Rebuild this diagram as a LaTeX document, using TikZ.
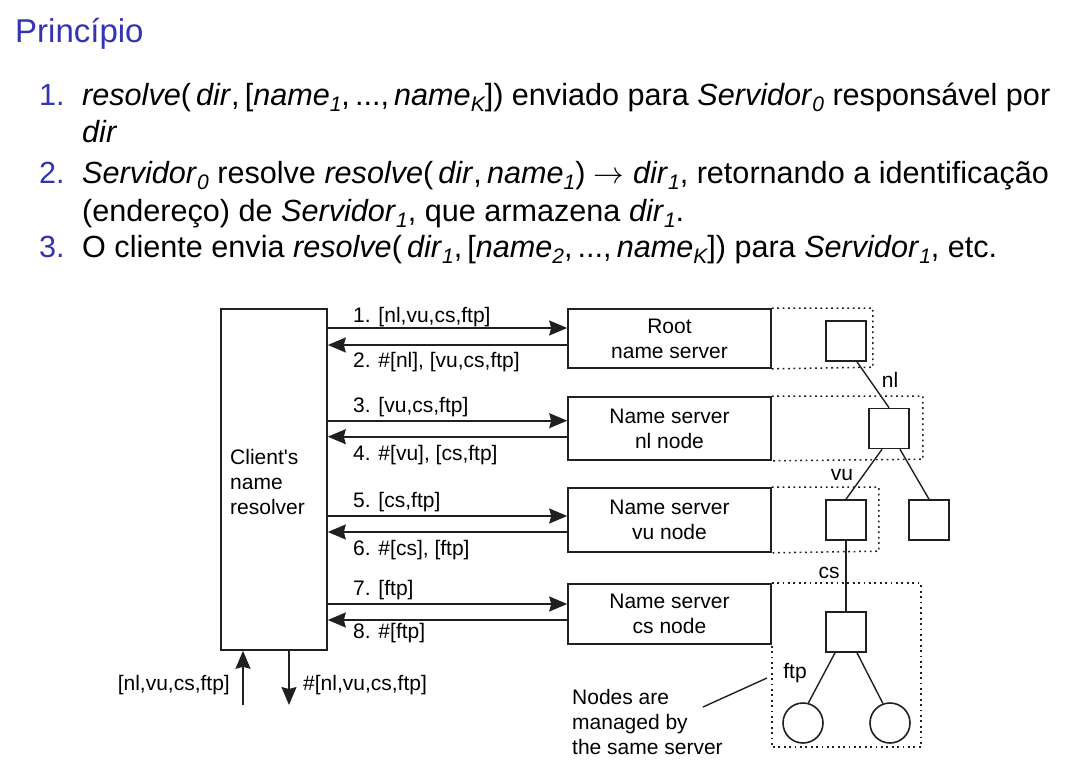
\RequirePackage{fix-cm}
\documentclass[tikz,border=0pt]{standalone}
\usepackage{fontspec}
\setmainfont{Liberation Sans}
\usetikzlibrary{arrows.meta}
\definecolor{struct}{RGB}{51,51,179}
\definecolor{ink}{RGB}{35,31,32}
% italic subscript used in the item text
\newcommand\subix[1]{\raisebox{-0.22em}{\fontsize{21}{21}\selectfont\itshape #1}}
\newcommand\bodysize{\fontsize{30.6}{36}\selectfont}
\newcommand\figsize{\fontsize{21}{25}\selectfont}
\newcommand\iv[1]{\textit{#1\/}}
\begin{document}
\begin{tikzpicture}[x=1pt,y=-1pt,
  body/.style={anchor=base west,inner sep=0pt,font=\bodysize},
  num/.style={anchor=base west,inner sep=0pt,font=\bodysize,text=struct},
  box/.style={draw=ink,line width=1.6pt,inner sep=0pt},
  srv/.style={box,minimum width=203pt,align=center,font=\figsize},
  leaf/.style={box,minimum width=40pt,minimum height=40pt},
  ball/.style={box,circle,minimum size=40pt},
  lbl/.style={inner sep=0pt,font=\figsize},
  fwd/.style={draw=ink,line width=1.6pt,-{Stealth[length=18pt,width=15pt,inset=2pt]}},
  edge/.style={draw=ink,line width=1.4pt},
  dots/.style={draw=ink,line width=1.5pt,dash pattern=on 1.8pt off 3.6pt},
]
\useasboundingbox (0,0) rectangle (1082,760);

% title and enumerated text
\node[anchor=base west,inner sep=0pt,font=\fontsize{33}{40}\selectfont,text=struct] (title) at (15,43) {Princípio};
\node[num] (n1) at (39,105) {1.};
\node[body] (t1) at (82,105) {\iv{resolve}(\,\iv{dir},\,[\iv{name}\subix{1},\,...,\,\iv{name}\subix{K}]) enviado para \iv{Servidor}\subix{0} responsável por};
\node[body] (t1b) at (82,142) {\iv{dir}};
\node[num] (n2) at (39,183) {2.};
\node[body] (t2) at (82,183) {\iv{Servidor}\subix{0} resolve \iv{resolve}(\,\iv{dir},\,\iv{name}\subix{1}) $\rightarrow$ \iv{dir}\subix{1}, retornando a identificação};
\node[body] (t2b) at (82,221) {(endereço) de \iv{Servidor}\subix{1}, que armazena \iv{dir}\subix{1}.};
\node[num] (n3) at (39,257) {3.};
\node[body] (t3) at (82,257) {O cliente envia \iv{resolve}(\,\iv{dir}\subix{1},\,[\iv{name}\subix{2},\,...,\,\iv{name}\subix{K}]) para \iv{Servidor}\subix{1}, etc.};

% client and the four name servers
\node[box,minimum width=106pt,minimum height=341pt] (client) at (274,479.5) {};
\node[lbl,anchor=west,align=left] (ctext) at (230,482) {Client\textquotesingle s\\name\\resolver};
\node[srv,minimum height=59pt] (root) at (669.5,338.5) {Root\\name server};
\node[srv,minimum height=63pt] (nl) at (669.5,428.5) {Name server\\nl node};
\node[srv,minimum height=64pt] (vu) at (669.5,520) {Name server\\vu node};
\node[srv,minimum height=60pt] (cs) at (669.5,614) {Name server\\cs node};

% request / reply arrows
\draw[fwd] ([yshift=10.5pt]root.west -| client.east) -- ([yshift=10.5pt]root.west);
\draw[fwd] ([yshift=-6.5pt]root.west) -- ([yshift=-6.5pt]root.west -| client.east);
\draw[fwd] ([yshift=7.8pt]nl.west -| client.east) -- ([yshift=7.8pt]nl.west);
\draw[fwd] ([yshift=-8.2pt]nl.west) -- ([yshift=-8.2pt]nl.west -| client.east);
\draw[fwd] ([yshift=4pt]vu.west -| client.east) -- ([yshift=4pt]vu.west);
\draw[fwd] ([yshift=-12pt]vu.west) -- ([yshift=-12pt]vu.west -| client.east);
\draw[fwd] ([yshift=10pt]cs.west -| client.east) -- ([yshift=10pt]cs.west);
\draw[fwd] ([yshift=-6pt]cs.west) -- ([yshift=-6pt]cs.west -| client.east);

\node[lbl,anchor=west] (m1) at (353,317) {1. [nl,vu,cs,ftp]};
\node[lbl,anchor=west] (m2) at (353,362) {2. \#[nl], [vu,cs,ftp]};
\node[lbl,anchor=west] (m3) at (353,407) {3. [vu,cs,ftp]};
\node[lbl,anchor=west] (m4) at (353,455) {4. \#[vu], [cs,ftp]};
\node[lbl,anchor=west] (m5) at (353,502) {5. [cs,ftp]};
\node[lbl,anchor=west] (m6) at (353,550) {6. \#[cs], [ftp]};
\node[lbl,anchor=west] (m7) at (353,590) {7. [ftp]};
\node[lbl,anchor=west] (m8) at (353,633) {8. \#[ftp]};

% query into and answer out of the client
\coordinate (qin) at (243,705);
\coordinate (qout) at (289,705);
\draw[fwd] (qin) -- (qin |- client.south);
\draw[fwd] (qout |- client.south) -- (qout);
\node[lbl,anchor=east] (qinl) at (230,685) {[nl,vu,cs,ftp]};
\node[lbl,anchor=west] (qoutl) at (303,685) {\#[nl,vu,cs,ftp]};

% naming tree
\node[leaf] (r0) at (846,341) {};
\node[leaf] (k1) at (889,428.5) {};
\node[leaf] (v1) at (846,520) {};
\node[leaf] (v2) at (929,520) {};
\node[leaf] (c1) at (846,632) {};
\node[ball] (f1) at (803,723) {};
\node[ball] (f2) at (890,723) {};
\draw[edge] ([xshift=11pt]r0.south) -- (k1.north);
\draw[edge] ([xshift=-7pt]k1.south) -- (v1.north);
\draw[edge] ([xshift=11pt]k1.south) -- (v2.north);
\draw[edge] (v1.south) -- (c1.north);
\draw[edge] ([xshift=-11pt]c1.south) -- (f1.75);
\draw[edge] ([xshift=11pt]c1.south) -- (f2.110);
\node[lbl] (enl) at (890,380) {nl};
\node[lbl] (evu) at (842,475) {vu};
\node[lbl] (ecs) at (829,573) {cs};
\node[lbl] (eftp) at (795,673) {ftp};

% zones handled by each server
\draw[dots] (root.north east) -- ++(101,0) -- ++(0,59) -- (root.south east);
\draw[dots] (nl.north east) -- ++(151,0) -- ++(0,63) -- (nl.south east);
\draw[dots] (vu.north east) -- ++(107,0) -- ++(0,64) -- (vu.south east);
\draw[dots] (cs.north east) -- ++(149,0) -- ++(0,164) -- ++(-149,0) -- (cs.south east);

% note
\node[lbl,anchor=west,align=left] (note) at (572,722) {Nodes are\\managed by\\the same server};
\coordinate (noteA) at (703,707);
\coordinate (noteB) at (767,678);
\draw[edge] (noteA) -- (noteB);
\end{tikzpicture}
\end{document}
